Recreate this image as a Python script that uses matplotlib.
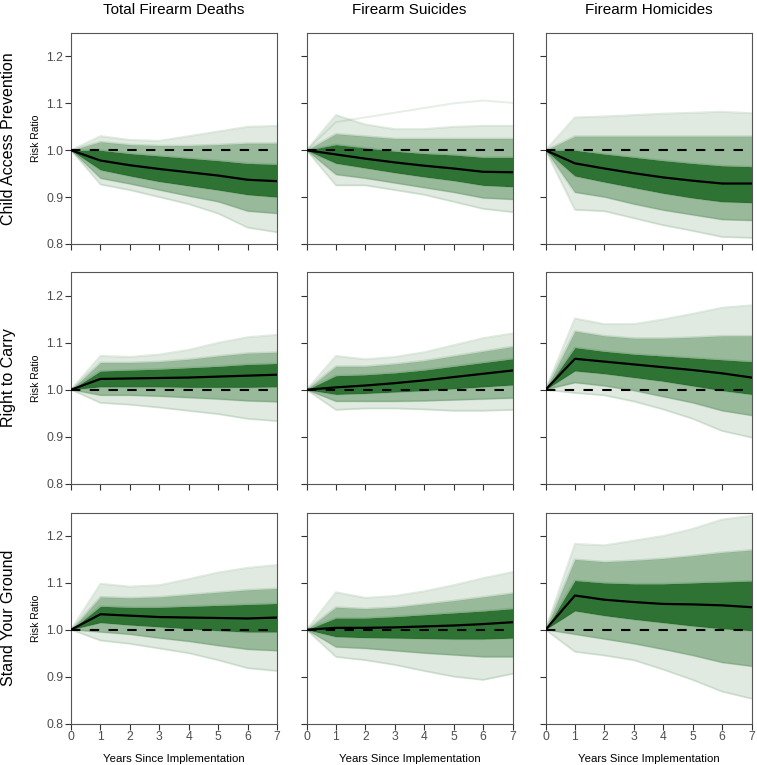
import matplotlib
matplotlib.use("Agg")
import matplotlib.pyplot as plt
import numpy as np

plt.rcParams['font.family'] = ['Liberation Sans', 'DejaVu Sans']

years = [0, 1, 2, 3, 4, 5, 6, 7]
outcomes = ["Total Firearm Deaths", "Firearm Suicides", "Firearm Homicides"]
policies = ["Child Access Prevention", "Right to Carry", "Stand Your Ground"]

# Each panel: mean trajectory and envelope trajectories
# envelope order: u3 (outermost top), u2, u1, l1, l2, l3 (outermost bottom)
cap_total_mean = [1, 0.978, 0.968, 0.960, 0.953, 0.946, 0.937, 0.934]
cap_total_env = [
    [1, 1.030, 1.022, 1.020, 1.030, 1.040, 1.050, 1.052],
    [1, 1.018, 1.012, 1.010, 1.010, 1.012, 1.015, 1.015],
    [1, 1.000, 0.993, 0.988, 0.983, 0.978, 0.972, 0.970],
    [1, 0.958, 0.945, 0.933, 0.924, 0.915, 0.905, 0.900],
    [1, 0.940, 0.928, 0.915, 0.902, 0.890, 0.870, 0.865],
    [1, 0.927, 0.915, 0.900, 0.885, 0.865, 0.835, 0.825],
]
cap_suic_mean = [1, 0.991, 0.982, 0.974, 0.967, 0.961, 0.954, 0.953]
cap_suic_env = [
    [1, 1.075, 1.055, 1.045, 1.045, 1.050, 1.052, 1.052],
    [1, 1.035, 1.030, 1.025, 1.025, 1.025, 1.025, 1.025],
    [1, 1.012, 1.005, 0.998, 0.993, 0.990, 0.985, 0.985],
    [1, 0.972, 0.962, 0.952, 0.943, 0.935, 0.925, 0.922],
    [1, 0.948, 0.940, 0.930, 0.920, 0.910, 0.898, 0.895],
    [1, 0.925, 0.925, 0.915, 0.905, 0.890, 0.875, 0.868],
]
cap_suic_extra = [[1, 1.060, 1.070, 1.080, 1.090, 1.100, 1.106, 1.101]]
cap_hom_mean = [1, 0.972, 0.961, 0.951, 0.942, 0.935, 0.929, 0.929]
cap_hom_env = [
    [1, 1.070, 1.072, 1.075, 1.078, 1.080, 1.082, 1.079],
    [1, 1.030, 1.030, 1.030, 1.030, 1.030, 1.030, 1.030],
    [1, 1.000, 0.992, 0.985, 0.978, 0.972, 0.967, 0.965],
    [1, 0.945, 0.932, 0.920, 0.908, 0.898, 0.890, 0.888],
    [1, 0.910, 0.900, 0.885, 0.872, 0.862, 0.852, 0.850],
    [1, 0.873, 0.870, 0.855, 0.840, 0.828, 0.815, 0.813],
]
rtc_total_mean = [1, 1.023, 1.024, 1.025, 1.026, 1.028, 1.030, 1.032]
rtc_total_env = [
    [1, 1.072, 1.070, 1.075, 1.085, 1.100, 1.112, 1.117],
    [1, 1.058, 1.058, 1.060, 1.065, 1.072, 1.078, 1.080],
    [1, 1.040, 1.042, 1.044, 1.047, 1.050, 1.054, 1.056],
    [1, 1.006, 1.006, 1.006, 1.005, 1.005, 1.005, 1.006],
    [1, 0.988, 0.988, 0.986, 0.983, 0.980, 0.976, 0.974],
    [1, 0.972, 0.968, 0.962, 0.955, 0.948, 0.938, 0.933],
]
rtc_suic_mean = [1, 1.005, 1.009, 1.014, 1.020, 1.027, 1.034, 1.041]
rtc_suic_env = [
    [1, 1.072, 1.065, 1.070, 1.080, 1.095, 1.110, 1.120],
    [1, 1.050, 1.050, 1.055, 1.062, 1.072, 1.082, 1.092],
    [1, 1.030, 1.032, 1.036, 1.042, 1.050, 1.058, 1.066],
    [1, 0.990, 0.992, 0.995, 0.998, 1.002, 1.006, 1.010],
    [1, 0.975, 0.975, 0.975, 0.976, 0.978, 0.980, 0.982],
    [1, 0.957, 0.960, 0.960, 0.958, 0.955, 0.955, 0.957],
]
rtc_hom_mean = [1, 1.066, 1.060, 1.054, 1.048, 1.042, 1.035, 1.026]
rtc_hom_env = [
    [1, 1.152, 1.140, 1.140, 1.150, 1.162, 1.175, 1.180],
    [1, 1.125, 1.115, 1.110, 1.110, 1.112, 1.115, 1.115],
    [1, 1.090, 1.082, 1.076, 1.072, 1.068, 1.064, 1.060],
    [1, 1.040, 1.034, 1.026, 1.018, 1.008, 0.998, 0.990],
    [1, 1.015, 1.008, 0.998, 0.985, 0.972, 0.955, 0.945],
    [1, 0.993, 0.988, 0.975, 0.958, 0.938, 0.912, 0.898],
]
syg_total_mean = [1, 1.033, 1.030, 1.027, 1.026, 1.025, 1.024, 1.026]
syg_total_env = [
    [1, 1.098, 1.092, 1.095, 1.108, 1.122, 1.132, 1.138],
    [1, 1.070, 1.068, 1.070, 1.075, 1.080, 1.085, 1.088],
    [1, 1.050, 1.048, 1.048, 1.050, 1.052, 1.054, 1.056],
    [1, 1.015, 1.010, 1.006, 1.002, 0.998, 0.995, 0.995],
    [1, 0.995, 0.990, 0.982, 0.975, 0.966, 0.958, 0.955],
    [1, 0.977, 0.970, 0.960, 0.950, 0.935, 0.918, 0.912],
]
syg_suic_mean = [1, 1.004, 1.004, 1.005, 1.007, 1.009, 1.012, 1.016]
syg_suic_env = [
    [1, 1.080, 1.068, 1.072, 1.082, 1.095, 1.110, 1.123],
    [1, 1.048, 1.045, 1.048, 1.055, 1.062, 1.070, 1.078],
    [1, 1.025, 1.025, 1.028, 1.032, 1.036, 1.040, 1.045],
    [1, 0.985, 0.983, 0.982, 0.981, 0.980, 0.980, 0.982],
    [1, 0.963, 0.960, 0.955, 0.950, 0.946, 0.942, 0.942],
    [1, 0.942, 0.935, 0.925, 0.912, 0.900, 0.893, 0.906],
]
syg_hom_mean = [1, 1.073, 1.064, 1.059, 1.055, 1.054, 1.052, 1.048]
syg_hom_env = [
    [1, 1.183, 1.180, 1.190, 1.200, 1.215, 1.235, 1.243],
    [1, 1.150, 1.145, 1.148, 1.152, 1.158, 1.165, 1.170],
    [1, 1.105, 1.100, 1.098, 1.098, 1.100, 1.102, 1.104],
    [1, 1.040, 1.030, 1.022, 1.015, 1.008, 1.002, 0.998],
    [1, 0.990, 0.980, 0.970, 0.958, 0.945, 0.930, 0.922],
    [1, 0.953, 0.945, 0.935, 0.915, 0.893, 0.868, 0.853],
]

panels = [
    [(cap_total_mean, cap_total_env, []), (cap_suic_mean, cap_suic_env, cap_suic_extra), (cap_hom_mean, cap_hom_env, [])],
    [(rtc_total_mean, rtc_total_env, []), (rtc_suic_mean, rtc_suic_env, []), (rtc_hom_mean, rtc_hom_env, [])],
    [(syg_total_mean, syg_total_env, []), (syg_suic_mean, syg_suic_env, []), (syg_hom_mean, syg_hom_env, [])],
]

W, H = 757, 765
fig = plt.figure(figsize=(W / 100, H / 100), dpi=100)

col_left = [71, 306.5, 545.5]
row_top = [33, 272.5, 512.5]
pw, ph = 206, 211
green = "#0a5a10"
band_alpha = [0.12, 0.42, 0.85, 0.42, 0.12]
grey = "#4d4d4d"

for r in range(3):
    for c in range(3):
        x0, y0 = col_left[c], row_top[r]
        ax = fig.add_axes([x0 / W, 1 - (y0 + ph) / H, pw / W, ph / H])
        mean, env, extra = panels[r][c]
        x = np.array(years)
        for i in range(len(env) - 1):
            ax.fill_between(x, env[i], env[i + 1], color=green, alpha=band_alpha[i], lw=0)
        for line in env:
            ax.plot(x, line, color=green, alpha=0.12, lw=1.4)
        for line in extra:
            ax.plot(x, line, color=green, alpha=0.10, lw=1.4)
        ax.axhline(1.0, color="black", lw=1.5, ls=(0, (4.5, 4.5)), zorder=4)
        ax.plot(x, mean, color="black", lw=1.6, zorder=5)
        ax.set_xlim(0, 7)
        ax.set_ylim(0.8, 1.25)
        ax.set_xticks(range(8))
        ax.set_yticks([0.8, 0.9, 1.0, 1.1, 1.2])
        ax.tick_params(direction="out", length=4, width=0.8, color="#333333",
                       labelsize=8.7, labelcolor=grey, pad=1.5)
        for s in ax.spines.values():
            s.set_color("#555555")
            s.set_linewidth(0.8)
        if c == 0:
            ax.set_yticklabels(["0.8", "0.9", "1.0", "1.1", "1.2"])
            ax.set_ylabel("Risk Ratio", fontsize=7.5, labelpad=4, color="black")
            fig.text(9 / W, 1 - (y0 + ph / 2) / H, policies[r], rotation=90,
                     ha="center", va="center", fontsize=11.5)
        else:
            ax.set_yticklabels([])
        if r == 2:
            ax.set_xticklabels([str(v) for v in years])
            ax.set_xlabel("Years Since Implementation", fontsize=8.2, labelpad=8)
        else:
            ax.set_xticklabels([])
        if r == 0:
            ax.set_title(outcomes[c], fontsize=11, pad=14)

fig.savefig("out.png", dpi=100)
